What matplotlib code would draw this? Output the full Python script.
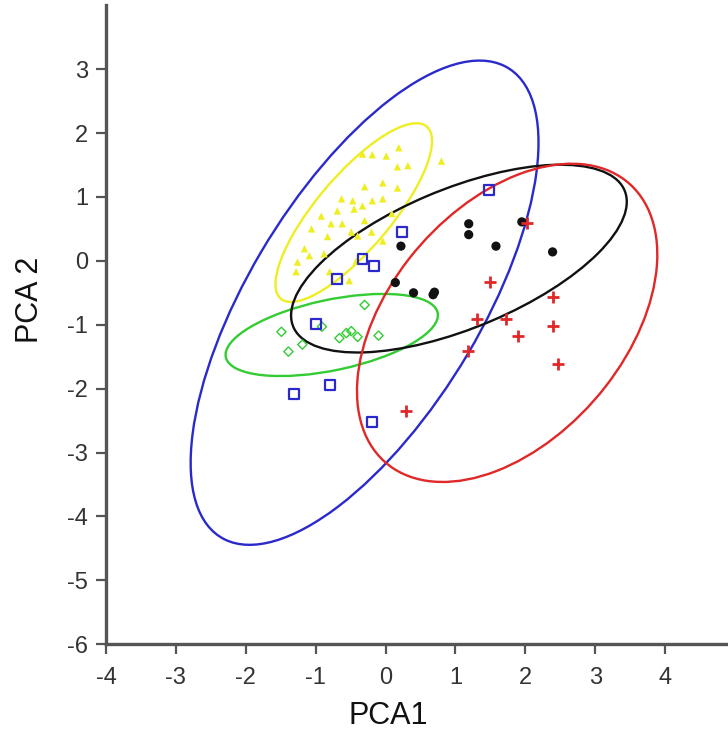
import matplotlib
matplotlib.use("Agg")
import matplotlib.pyplot as plt
from matplotlib.patches import Ellipse

plt.rcParams['font.family'] = ['Liberation Sans', 'DejaVu Sans']

# ---- data ----
yellow_x = [-0.33, 0.01, 0.19, 0.17, 0.32, 0.80, -0.30, -0.04, 0.17, -0.63, -0.47, -0.33,
            -0.19, -0.04, -0.92, -0.69, -0.45, -0.78, -0.62, -0.49, -0.40, -0.20, -0.83,
            -1.16, -1.09, -0.88, -1.26, -1.28, -0.80, -0.42, -0.52, 0.09, -0.30, -0.04,
            -1.06, -0.19]
yellow_y = [1.67, 1.64, 1.77, 1.47, 1.49, 1.56, 1.16, 1.22, 1.14, 0.97, 0.94, 0.86,
            0.94, 0.97, 0.70, 0.78, 0.81, 0.58, 0.58, 0.45, 0.39, 0.45, 0.38,
            0.19, 0.08, 0.11, -0.02, -0.17, -0.17, 0.00, -0.31, 0.74, 0.63, 0.31,
            0.50, 1.66]

green_x = [-0.30, -1.49, -1.19, -1.39, -0.91, -0.66, -0.56, -0.40, -0.10, -0.49]
green_y = [-0.69, -1.11, -1.31, -1.42, -1.03, -1.21, -1.13, -1.19, -1.17, -1.10]

blue_x = [1.48, 0.23, -0.33, -0.17, -0.70, -0.99, -1.31, -0.80, -0.19]
blue_y = [1.11, 0.45, 0.03, -0.08, -0.28, -0.99, -2.08, -1.94, -2.52]

black_x = [0.22, 1.19, 1.19, 1.58, 1.95, 2.39, 0.14, 0.40, 0.68, 0.70]
black_y = [0.23, 0.58, 0.41, 0.23, 0.61, 0.14, -0.34, -0.50, -0.53, -0.49]

red_x = [2.03, 1.49, 2.40, 1.72, 1.31, 2.40, 1.90, 1.18, 2.47, 0.29]
red_y = [0.59, -0.33, -0.56, -0.91, -0.91, -1.02, -1.17, -1.41, -1.61, -2.35]

# confidence ellipses: (center x, center y, width, height, angle)
blue_ell = (-0.30, -0.655, 8.42, 3.36, 61.6)
yellow_ell = (-0.455, 0.755, 3.41, 1.10, 52.8)
green_ell = (-0.77, -1.16, 3.11, 1.10, 13.2)
black_ell = (1.05, 0.035, 5.20, 2.16, 24.9)
red_ell = (1.74, -0.97, 5.60, 3.45, 54.5)

x_ticks = [-4, -3, -2, -1, 0, 1, 2, 3, 4]
y_ticks = [-6, -5, -4, -3, -2, -1, 0, 1, 2, 3]

# ---- colors ----
c_blue = '#2a2acc'
c_yellow = '#eeee22'
c_green = '#33cc33'
c_black = '#111111'
c_red = '#e02828'

fig = plt.figure(figsize=(7.28, 7.44), dpi=100)
ax = fig.add_axes([0.1456, 0.134, 0.8544, 0.859])

ax.scatter(yellow_x, yellow_y, marker='^', s=28, color=c_yellow, edgecolors='none', zorder=3)
ax.scatter(green_x, green_y, marker='D', s=22, facecolors='none', edgecolors=c_green, linewidths=1.0, zorder=3)
ax.scatter(blue_x, blue_y, marker='s', s=50, facecolors='none', edgecolors=c_blue, linewidths=1.6, zorder=3)
ax.scatter(black_x, black_y, marker='o', s=44, color=c_black, edgecolors='none', zorder=3)
ax.scatter(red_x, red_y, marker='+', s=75, color=c_red, linewidths=2.0, zorder=3)

for ell, col in [(blue_ell, c_blue), (yellow_ell, c_yellow), (green_ell, c_green),
                 (black_ell, c_black), (red_ell, c_red)]:
    cx, cy, w, h, a = ell
    ax.add_patch(Ellipse((cx, cy), w, h, angle=a, fill=False, edgecolor=col, linewidth=1.7, zorder=2))

ax.set_xlim(-4, 4.9)
ax.set_ylim(-6, 4.0)
ax.set_xticks(x_ticks)
ax.set_yticks(y_ticks)
ax.set_xticklabels([str(t) for t in x_ticks])
ax.set_yticklabels([str(t) for t in y_ticks])

for side in ['top', 'right']:
    ax.spines[side].set_visible(False)
for side in ['left', 'bottom']:
    ax.spines[side].set_color('#555555')
    ax.spines[side].set_linewidth(2.4)

ax.tick_params(direction='out', length=7, width=1.6, color='#555555',
               labelsize=17, labelcolor='#333333')
ax.tick_params(axis='x', pad=9)
ax.tick_params(axis='y', pad=6)

ax.set_xlabel('PCA1', fontsize=22, color='#111111')
ax.set_ylabel('PCA 2', fontsize=22, color='#111111')
ax.xaxis.set_label_coords(0.453, -0.112)
ax.xaxis.label.set_va('center')
ax.yaxis.set_label_coords(-0.122, 0.539)
ax.yaxis.label.set_va('center')

fig.savefig('out.png', dpi=100)
